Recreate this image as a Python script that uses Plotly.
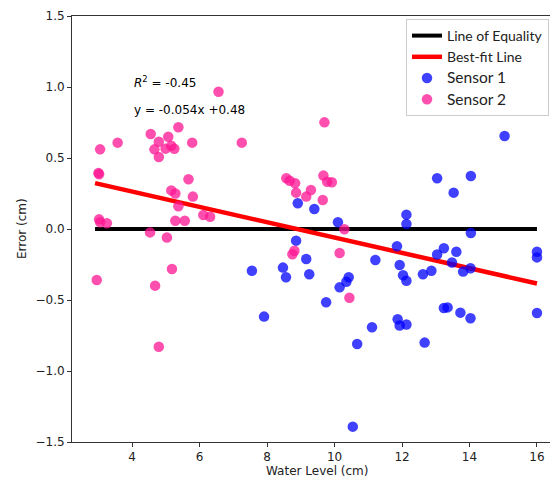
import plotly.graph_objects as go

# Sensor 1 (blue)
s1_x = [8.91, 9.40, 10.10, 12.13, 12.13, 13.04, 13.53, 14.04, 14.04, 15.04,
        7.55, 7.91, 8.47, 8.56, 8.86, 9.16, 9.25, 10.15, 10.35, 10.42,
        9.75, 11.21, 11.11, 10.67, 10.54, 11.85, 11.93, 12.03, 12.13, 11.87,
        11.93, 12.13, 12.62, 12.87, 12.67, 13.04, 13.24, 13.61, 13.48, 13.81,
        14.03, 13.24, 13.35, 13.73, 14.03, 16.0, 16.0, 16.0]
s1_y = [0.181, 0.141, 0.047, 0.101, 0.035, 0.357, 0.256, 0.373, -0.028, 0.655,
        -0.294, -0.617, -0.272, -0.340, -0.082, -0.211, -0.319, -0.411, -0.371, -0.340,
        -0.516, -0.218, -0.692, -0.810, -1.392, -0.122, -0.254, -0.326, -0.364, -0.636,
        -0.680, -0.673, -0.319, -0.294, -0.800, -0.180, -0.136, -0.160, -0.236, -0.300,
        -0.277, -0.556, -0.552, -0.589, -0.629, -0.160, -0.200, -0.592]

# Sensor 2 (pink)
s2_x = [3.05, 3.00, 3.02, 3.57, 4.55, 4.79, 4.66, 4.79, 5.07, 4.99,
        5.16, 5.25, 5.37, 5.78, 6.56, 7.25, 5.16, 5.28, 5.67, 5.80,
        5.37, 5.28, 5.56, 6.11, 6.31, 3.02, 3.05, 3.25, 4.53, 5.03,
        2.95, 5.18, 4.68, 4.79, 8.57, 8.67, 8.83, 8.86, 9.16, 9.30,
        9.67, 9.78, 9.92, 9.65, 10.29, 9.70, 8.75, 8.81, 10.15, 10.44]
s2_y = [0.561, 0.395, 0.385, 0.608, 0.669, 0.615, 0.561, 0.507, 0.650, 0.566,
        0.586, 0.565, 0.717, 0.608, 0.967, 0.608, 0.272, 0.250, 0.350, 0.228,
        0.160, 0.058, 0.058, 0.099, 0.086, 0.068, 0.048, 0.040, -0.024, -0.060,
        -0.359, -0.282, -0.399, -0.829, 0.357, 0.340, 0.322, 0.256, 0.228, 0.275,
        0.376, 0.333, 0.329, 0.204, -0.002, 0.751, -0.178, -0.153, -0.169, -0.484]

eq_x = [2.9, 16.0]
eq_y = [0.0, 0.0]
fit_x = [2.9, 16.0]
fit_y = [0.323, -0.384]

x_ticks = [4, 6, 8, 10, 12, 14, 16]
y_ticks = [-1.5, -1.0, -0.5, 0.0, 0.5, 1.0, 1.5]

FONT = "DejaVu Sans"
W, H = 550, 484
L, R, T, B = 72, 0, 16, 42
pw, ph = W - L - R, H - T - B


def px_x(p):
    return (p - L) / pw


def px_y(p):
    return 1 - (p - T) / ph


fig = go.Figure()
fig.add_trace(go.Scatter(x=eq_x, y=eq_y, mode="lines", name="Line of Equality",
                         line=dict(color="black", width=4)))
fig.add_trace(go.Scatter(x=fit_x, y=fit_y, mode="lines", name="Best-fit Line",
                         line=dict(color="red", width=4.5)))
fig.add_trace(go.Scatter(x=s1_x, y=s1_y, mode="markers",
                         name="<span style='font-size:15.5px'>Sensor 1</span>",
                         marker=dict(color="rgba(0,0,255,0.75)", size=10.5, line=dict(width=0))))
fig.add_trace(go.Scatter(x=s2_x, y=s2_y, mode="markers",
                         name="<span style='font-size:15.5px'>Sensor 2</span>",
                         marker=dict(color="rgba(255,20,147,0.75)", size=10.5, line=dict(width=0))))

fig.add_annotation(x=4.0, y=1.035, xref="x", yref="y", xanchor="left", yanchor="middle",
                   text="<i>R</i><sup>2</sup> = -0.45", showarrow=False,
                   font=dict(family=FONT, size=12, color="black"))
fig.add_annotation(x=4.0, y=0.838, xref="x", yref="y", xanchor="left", yanchor="middle",
                   text="y = -0.054x +0.48", showarrow=False,
                   font=dict(family=FONT, size=12, color="black"))
# axis titles
fig.add_annotation(x=px_x(317), y=px_y(471), xref="paper", yref="paper",
                   xanchor="center", yanchor="middle", text="Water Level (cm)",
                   showarrow=False, font=dict(family=FONT, size=12, color="#222"))
fig.add_annotation(x=px_x(22), y=px_y(229), xref="paper", yref="paper",
                   xanchor="center", yanchor="middle", text="Error (cm)", textangle=-90,
                   showarrow=False, font=dict(family=FONT, size=12, color="#222"))

fig.update_layout(
    width=W, height=H,
    margin=dict(l=L, r=R, t=T, b=B),
    plot_bgcolor="white", paper_bgcolor="white",
    font=dict(family=FONT, size=12, color="#222"),
    showlegend=True,
    legend=dict(x=px_x(406), y=px_y(19), xanchor="left", yanchor="top",
                bgcolor="white", bordercolor="#cccccc", borderwidth=1,
                font=dict(family="Lato", size=14, color="#222"),
                tracegroupgap=0, itemwidth=30),
    xaxis=dict(range=[2.217, 16.386], tickvals=x_ticks, ticks="outside", ticklen=4,
               tickcolor="#333", showline=True, linecolor="#333", linewidth=1,
               mirror=True, showgrid=False, zeroline=False),
    yaxis=dict(range=[-1.5, 1.5], tickvals=y_ticks, tickformat=".1f", ticks="outside",
               ticklen=4, tickcolor="#333", showline=True, linecolor="#333", linewidth=1,
               showgrid=False, zeroline=False),
)

fig.write_html("out.html")
